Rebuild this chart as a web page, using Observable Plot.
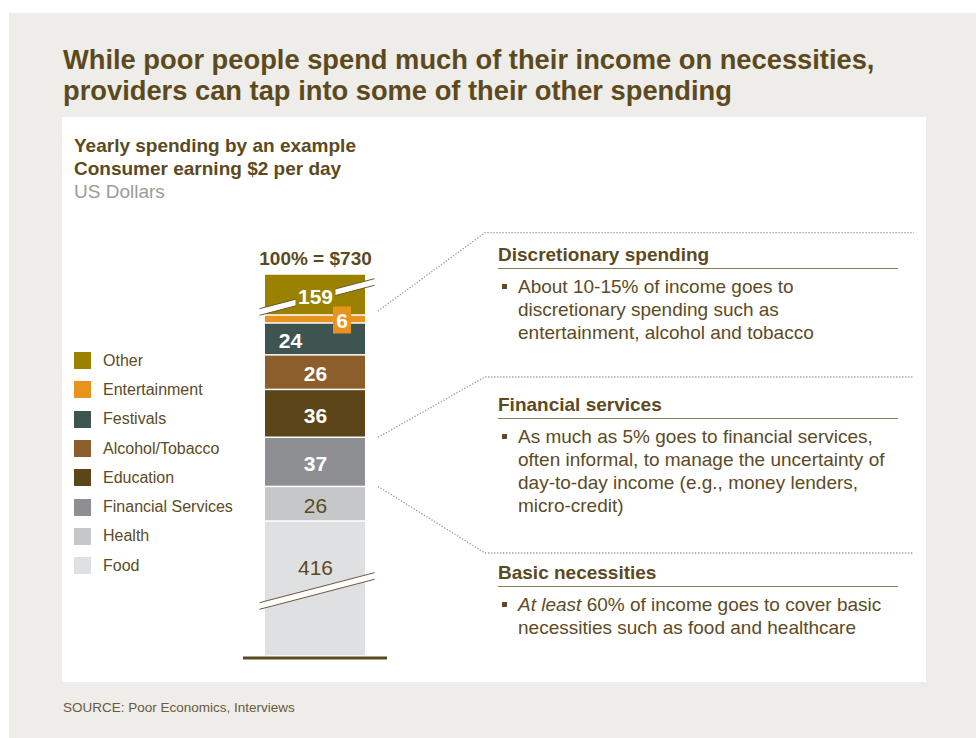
<!DOCTYPE html>
<html><head><meta charset="utf-8">
<script src="https://cdn.jsdelivr.net/npm/d3@7"></script>
<script src="https://cdn.jsdelivr.net/npm/@observablehq/plot@0.6"></script>
<style>
html,body{margin:0;padding:0;background:#fff;width:976px;height:738px;overflow:hidden;font-family:"Liberation Sans",Arial,sans-serif;}
#frame{position:absolute;left:9px;top:13px;width:967px;height:725px;background:#eeede9;}
#title{position:absolute;left:63px;top:44px;margin:0;font-size:27.3px;line-height:31px;font-weight:bold;color:#5c4a1e;white-space:nowrap;}
#panel{position:absolute;left:62px;top:117px;width:864px;height:565px;background:#fff;}
#sub{position:absolute;left:74px;top:134px;font-size:19px;line-height:23px;font-weight:bold;color:#5c4a1e;white-space:nowrap;}
#sub .unit{font-weight:normal;color:#9b9b9b;}
#chart{position:absolute;left:62px;top:117px;}
#legend{position:absolute;left:74px;top:346px;}
#legend .lg-swatches{font-family:"Liberation Sans",Arial,sans-serif !important;font-size:16px !important;color:#5c4b26 !important;margin:0 !important;min-height:0 !important;columns:auto !important;display:block !important;}
#legend .lg-swatch{display:flex !important;align-items:center;height:29.3px;margin:0 !important;padding:0 !important;}
#legend .lg-swatch svg{margin-right:12px !important;flex:none;}
.note{position:absolute;left:498px;width:400px;color:#5c4b26;}
.note h3{margin:0;font-size:19px;line-height:22px;font-weight:bold;padding-bottom:2px;border-bottom:1.5px solid #8c7d5c;color:#5c4a1e;white-space:nowrap;}
.note .b{margin:6px 0 0 0;padding-left:20px;position:relative;font-size:19px;line-height:23px;white-space:nowrap;}
.note .b::before{content:"";position:absolute;left:4px;top:9px;width:5px;height:5px;background:#5c4b26;}
#source{position:absolute;left:63px;top:700px;font-size:13.5px;line-height:16px;color:#6b5a3a;white-space:nowrap;}
</style></head>
<body>
<div id="frame"></div>
<h1 id="title">While poor people spend much of their income on necessities,<br>providers can tap into some of their other spending</h1>
<div id="panel"></div>
<div id="sub">Yearly spending by an example<br>Consumer earning $2 per day<br><span class="unit">US Dollars</span></div>
<div id="chart"></div>
<div id="legend"></div>
<div class="note" style="top:244px"><h3>Discretionary spending</h3>
<div class="b">About 10-15% of income goes to<br>discretionary spending such as<br>entertainment, alcohol and tobacco</div></div>
<div class="note" style="top:394px"><h3>Financial services</h3>
<div class="b">As much as 5% goes to financial services,<br>often informal, to manage the uncertainty of<br>day-to-day income (e.g., money lenders,<br>micro-credit)</div></div>
<div class="note" style="top:562px"><h3>Basic necessities</h3>
<div class="b"><i>At least</i> 60% of income goes to cover basic<br>necessities such as food and healthcare</div></div>
<div id="source">SOURCE: Poor Economics, Interviews</div>
<script>
// ---- data (bottom of the stack to top) ----
const categories = ["Food", "Health", "Financial Services", "Education", "Alcohol/Tobacco", "Festivals", "Entertainment", "Other"];
const values = [416, 26, 37, 36, 26, 24, 6, 159];
const colors = ["#dfe0e2", "#c6c7c9", "#8e8f93", "#5c4519", "#8b5e2b", "#3e5451", "#e8931e", "#9a8200"];
const brokenCategories = ["Food", "Other"];
const darkTextCategories = ["Food", "Health"];
const barKey = "Consumer earning $2 per day";

// ---- styles ----
const brown = "#5c4a1e";
const labelOffsets = {"Festivals": {dx: -25}, "Entertainment": {dx: 26.5}, "Food": {dy: -23}};

const total = d3.sum(values);
let acc = 0;
const table = categories.map((c, i) => ({category: c, value: values[i], y1: acc, y2: (acc += values[i])}));
const byCat = Object.fromEntries(table.map(d => [d.category, d]));
const colorOf = Object.fromEntries(categories.map((c, i) => [c, colors[i]]));
const yDomain = [0, byCat["Food"].y2, byCat["Other"].y1, total];
const yRange = [539, 404, 198, 157];

const mid = d => (d.y1 + d.y2) / 2;
const xk = () => barKey;

const breakBand = {draw(ctx) { ctx.moveTo(-57.5, 11.7); ctx.lineTo(57.5, -18.3); ctx.lineTo(57.5, -11.7); ctx.lineTo(-57.5, 18.3); ctx.closePath(); }};
const breakEdges = {draw(ctx) { ctx.moveTo(-57.5, 11.7); ctx.lineTo(57.5, -18.3); ctx.moveTo(-57.5, 18.3); ctx.lineTo(57.5, -11.7); }};
const smallBox = {draw(ctx) { ctx.rect(-9, -13.5, 18, 27); }};
const wideBox = {draw(ctx) { ctx.rect(-20, -11, 40, 20); }};

const broken = table.filter(d => brokenCategories.includes(d.category));
const labelMarks = table.map(d => {
  const off = labelOffsets[d.category] || {};
  const dark = darkTextCategories.includes(d.category);
  return Plot.text([d], {x: xk, y: mid, text: r => String(r.value), fontSize: 21,
    fontWeight: dark ? "normal" : "bold", fill: dark ? brown : "white",
    dx: off.dx || 0, dy: 2 + (off.dy || 0)});
});

const chart = Plot.plot({
  width: 864, height: 565,
  marginLeft: 181, marginRight: 539, marginTop: 0, marginBottom: 0,
  x: {type: "band", domain: [barKey], range: [203, 303], padding: 0, axis: null},
  y: {type: "linear", domain: yDomain, range: yRange, axis: null},
  color: {domain: categories, range: colors},
  style: {fontFamily: "Liberation Sans, Arial, sans-serif", background: "transparent", overflow: "visible"},
  marks: [
    Plot.barY(table, {x: xk, y1: "y1", y2: "y2", fill: "category", insetTop: 0.75, insetBottom: 0.75}),
    Plot.ruleY([0], {stroke: brown, strokeWidth: 3, dy: 1.5}),
    Plot.dot(broken, {x: xk, y: mid, symbol: breakBand, fill: "white", stroke: "none", dx: 1.5, dy: 2}),
    Plot.dot(broken, {x: xk, y: mid, symbol: breakEdges, fill: "none", stroke: "#6b5a35", strokeWidth: 1, dx: 1.5, dy: 2}),
    Plot.dot([byCat["Other"]], {x: xk, y: mid, symbol: wideBox, fill: colorOf["Other"], stroke: "none", dy: 2}),
    Plot.dot([byCat["Entertainment"]], {x: xk, y: mid, symbol: smallBox, fill: colorOf["Entertainment"], stroke: "none", dx: 26.5, dy: 0.5}),
    ...labelMarks,
    Plot.text([total], {x: xk, y: d => d, text: d => `100% = $${d}`, dy: -16, fontSize: 19, fontWeight: "bold", fill: brown})
  ]
});
document.getElementById("chart").appendChild(chart);

// connectors from the bar to the notes
const ys = chart.scale("y");
const fin = byCat["Financial Services"];
const connectors = [
  [[316, ys.apply(byCat["Other"].y1) - 4], [423, 115.7], [852, 115.7]],
  [[316, ys.apply(fin.y2)], [423, 260], [852, 260]],
  [[316, ys.apply(fin.y1)], [423, 436], [852, 436]]
];
const svg = d3.select(chart);
for (const pts of connectors) {
  svg.append("path").attr("d", d3.line()(pts)).attr("fill", "none")
    .attr("stroke", "#9a9a9a").attr("stroke-width", 1.3).attr("stroke-dasharray", "1.3 1.7");
}

// legend (top of stack first)
const legend = Plot.legend({
  color: {type: "ordinal", domain: [...categories].reverse(), range: [...colors].reverse()},
  swatchSize: 17, columns: 1, className: "lg"
});
document.getElementById("legend").appendChild(legend);
</script>
</body></html>
